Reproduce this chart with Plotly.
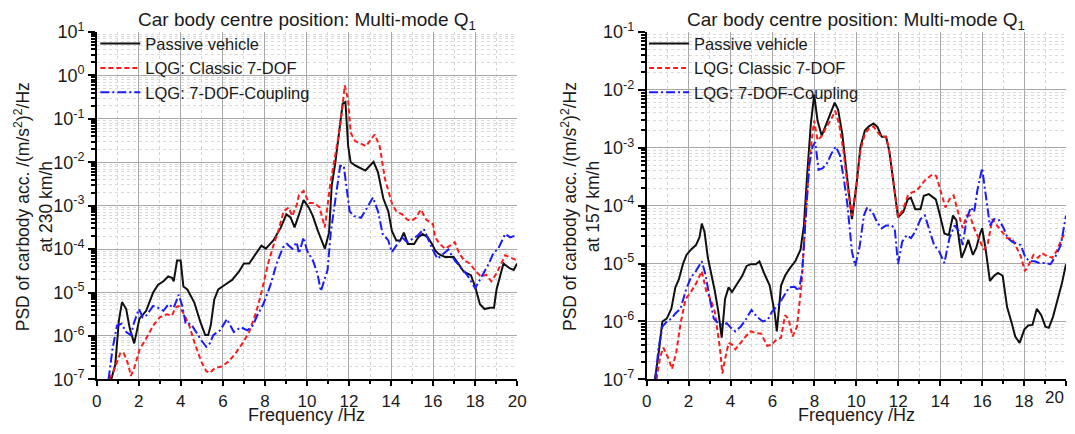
import numpy as np
import plotly.graph_objects as go

# ---------------- data (PSD given as log10 values) ----------------
# Left panel: 230 km/h
f_passive_230 = [0.69,0.88,1.05,1.2,1.4,1.57,1.78,2.03,2.35,2.68,2.92,3.17,3.4,3.58,3.66,3.82,3.99,4.12,4.31,4.64,
                 4.93,5.16,5.3,5.42,5.59,5.78,6.1,6.44,6.76,7.0,7.25,7.5,7.83,8.04,8.4,8.76,9.02,9.22,9.41,9.67,
                 9.84,10.1,10.28,10.52,10.85,11.05,11.18,11.34,11.54,11.7,11.83,11.96,12.08,12.32,12.78,13.17,13.38,13.63,13.87,14.04,
                 14.25,14.44,14.61,14.8,15.1,15.29,15.5,15.75,15.95,16.1,16.24,16.37,16.57,16.7,16.98,17.2,17.46,17.8,18.0,18.23,
                 18.45,18.7,18.9,19.02,19.35,19.64,19.84,20.0]
lg_passive_230 = [-7,-6.66,-5.65,-5.22,-5.38,-5.83,-6.17,-5.6,-5.42,-5.0,-4.82,-4.74,-4.63,-4.66,-4.74,-4.26,-4.26,-4.86,-4.93,-5.23,
                  -5.68,-5.98,-5.98,-5.76,-5.16,-4.93,-4.82,-4.71,-4.52,-4.33,-4.33,-4.14,-3.92,-3.99,-3.8,-3.5,-3.2,-3.27,-3.5,-3.13,
                  -2.87,-3.05,-3.24,-3.58,-3.99,-3.62,-2.53,-2.04,-1.32,-0.65,-0.61,-1.63,-2.0,-2.08,-2.19,-1.99,-2.23,-2.83,-3.13,-3.58,
                  -3.8,-3.8,-3.62,-3.88,-3.88,-3.73,-3.65,-3.73,-3.88,-4.03,-4.1,-4.14,-4.18,-4.18,-4.18,-4.33,-4.52,-4.6,-4.86,-5.27,
                  -5.38,-5.35,-5.35,-4.93,-4.33,-4.44,-4.48,-4.33]

f_classic_230 = [0.59,0.8,1.13,1.29,1.5,1.62,1.78,2.03,2.35,2.68,3.0,3.33,3.58,3.74,3.9,4.15,4.4,4.64,4.97,5.21,
                 5.38,5.62,5.95,6.27,6.6,6.93,7.25,7.58,7.83,8.15,8.4,8.64,8.89,9.13,9.3,9.51,9.62,9.84,10.1,10.36,
                 10.6,10.85,11.1,11.34,11.58,11.8,11.96,12.08,12.29,12.81,13.22,13.46,13.71,14.04,14.25,14.53,14.77,14.97,15.18,15.42,
                 15.67,16.0,16.1,16.32,16.57,16.81,17.03,17.22,17.47,17.75,18.04,18.29,18.53,18.77,19.02,19.43,19.76,20.0]
lg_classic_230 = [-7,-6.81,-6.38,-6.4,-6.66,-6.92,-6.74,-6.32,-6.06,-5.76,-5.57,-5.5,-5.53,-5.35,-5.31,-5.5,-5.76,-6.14,-6.59,-6.81,
                  -6.85,-6.74,-6.7,-6.59,-6.4,-6.17,-5.91,-5.46,-5.0,-4.33,-3.92,-3.58,-3.13,-3.04,-3.24,-2.98,-2.75,-2.66,-2.94,-2.94,
                  -3.04,-3.5,-2.53,-1.85,-1.17,-0.23,-0.57,-1.32,-1.51,-1.63,-1.36,-1.63,-2.38,-2.94,-3.13,-3.2,-3.32,-3.35,-3.28,-3.09,
                  -3.32,-3.43,-3.73,-3.88,-3.99,-3.92,-3.84,-4.07,-4.26,-4.33,-4.52,-4.63,-4.59,-4.74,-4.56,-4.14,-4.22,-4.26]

f_coupling_230 = [0.56,0.75,0.96,1.18,1.4,1.62,1.78,2.0,2.19,2.35,2.68,2.92,3.17,3.41,3.66,3.9,4.07,4.23,4.48,4.72,
                  4.97,5.21,5.38,5.54,5.87,6.19,6.52,6.85,7.17,7.42,7.66,7.92,8.24,8.56,8.86,9.05,9.3,9.51,9.62,9.84,
                  10.0,10.28,10.5,10.66,10.82,10.98,11.14,11.37,11.58,11.75,11.88,12.03,12.24,12.57,12.81,13.14,13.38,13.6,13.87,14.04,
                  14.25,14.53,14.77,15.02,15.26,15.56,15.75,16.0,16.21,16.5,16.73,17.03,17.3,17.63,18.0,18.33,18.66,18.86,19.1,19.43,
                  19.67,20.0]
lg_coupling_230 = [-7,-6.29,-5.76,-5.72,-5.91,-5.98,-5.68,-5.38,-5.57,-5.53,-5.31,-5.35,-5.42,-5.27,-5.35,-5.05,-5.31,-5.72,-5.72,-5.91,
                   -6.1,-6.25,-6.17,-5.98,-5.87,-5.61,-5.91,-5.8,-5.87,-5.76,-5.5,-5.27,-4.86,-4.33,-3.96,-3.88,-3.99,-3.84,-4.1,-3.73,
                   -4.03,-4.26,-4.56,-4.97,-4.71,-4.48,-3.58,-2.83,-2.08,-2.08,-2.6,-3.13,-3.24,-3.28,-3.09,-2.81,-3.13,-3.65,-3.8,-4.07,
                   -3.92,-3.73,-3.84,-3.77,-3.69,-3.54,-3.77,-4.03,-4.22,-4.1,-4.01,-4.26,-4.41,-4.6,-4.9,-4.63,-4.33,-4.1,-3.99,-3.65,
                   -3.73,-3.67]

# Right panel: 157 km/h
f_passive_157 = [0.39,0.56,0.75,0.96,1.18,1.37,1.54,1.73,1.9,2.11,2.35,2.52,2.63,2.76,2.92,3.09,3.25,3.42,3.58,3.74,
                 3.91,4.07,4.31,4.56,4.77,4.97,5.21,5.38,5.62,5.87,6.11,6.21,6.41,6.6,6.85,7.09,7.34,7.5,7.66,7.83,
                 7.99,8.15,8.35,8.56,8.76,8.97,9.13,9.33,9.54,9.79,10.0,10.2,10.41,10.6,10.82,11.01,11.21,11.42,11.58,11.8,
                 11.99,12.24,12.45,12.6,12.81,13.06,13.22,13.46,13.79,13.95,14.2,14.41,14.61,14.77,14.9,15.02,15.18,15.34,15.56,15.72,
                 15.88,16.0,16.16,16.37,16.57,16.76,16.98,17.19,17.39,17.58,17.79,18.01,18.2,18.4,18.61,18.82,19.02,19.18,19.38,19.59,
                 19.8,20.0]
lg_passive_157 = [-7,-6.59,-6.0,-5.95,-5.78,-5.41,-5.27,-5.01,-4.85,-4.76,-4.68,-4.55,-4.31,-4.45,-4.9,-5.18,-5.47,-5.83,-6.28,-5.61,
                  -5.41,-5.49,-5.35,-5.21,-5.04,-5.01,-5.01,-4.96,-5.18,-5.38,-5.86,-6.17,-5.38,-5.21,-5.07,-4.96,-4.76,-4.34,-3.44,-2.59,
                  -2.08,-2.53,-2.79,-2.59,-2.42,-2.22,-2.34,-2.76,-3.44,-4.23,-3.66,-2.98,-2.7,-2.63,-2.58,-2.64,-2.81,-2.81,-3.07,-3.66,
                  -4.2,-4.11,-3.89,-3.86,-4.06,-4.06,-3.83,-3.8,-3.89,-4.11,-4.48,-4.51,-4.17,-4.25,-4.56,-4.9,-4.76,-4.59,-4.85,-4.73,
                  -4.51,-4.39,-4.73,-5.3,-5.21,-5.16,-5.21,-5.75,-6.0,-6.26,-6.37,-6.14,-6.07,-6.06,-5.78,-5.89,-6.09,-6.11,-5.92,-5.64,
                  -5.35,-5.01]

f_classic_157 = [0.47,0.64,0.8,1.05,1.21,1.41,1.62,1.86,2.11,2.35,2.63,2.84,3.04,3.25,3.5,3.61,3.74,3.91,4.07,4.23,
                 4.48,4.72,4.97,5.21,5.46,5.75,5.98,6.19,6.41,6.6,6.76,6.96,7.17,7.39,7.58,7.78,7.99,8.15,8.37,8.56,
                 8.77,8.99,9.18,9.38,9.58,9.79,10.0,10.2,10.41,10.6,10.82,11.01,11.21,11.42,11.58,11.8,11.99,12.24,12.45,12.65,
                 12.84,13.06,13.3,13.63,13.82,14.04,14.25,14.44,14.64,14.85,15.07,15.26,15.42,15.62,15.83,16.08,16.27,16.49,16.7,16.93,
                 17.19,17.42,17.63,17.84,18.04,18.24,18.45,18.66,18.86,19.1,19.35,19.59,19.8,20.0]
lg_classic_157 = [-7,-6.62,-6.45,-6.65,-6.82,-6.54,-6.03,-5.61,-5.49,-5.35,-5.13,-5.47,-5.61,-5.83,-6.48,-6.9,-6.65,-6.37,-6.4,-6.48,
                  -6.37,-6.26,-6.17,-6.2,-6.21,-6.42,-6.4,-6.31,-6.28,-5.89,-5.95,-6.26,-6.09,-5.35,-4.17,-3.15,-2.53,-2.87,-2.79,-2.65,
                  -2.53,-2.36,-2.59,-3.04,-3.66,-4.17,-3.66,-3.04,-2.76,-2.67,-2.63,-2.73,-2.81,-2.81,-3.07,-3.66,-4.2,-4.06,-3.83,-3.77,
                  -3.75,-3.66,-3.55,-3.46,-3.49,-3.77,-4.03,-3.89,-3.82,-4.11,-4.39,-4.17,-4.17,-4.39,-4.56,-4.76,-4.65,-4.23,-4.34,-4.45,
                  -4.56,-4.56,-4.73,-4.87,-5.13,-5.01,-4.85,-4.9,-4.82,-4.87,-4.9,-4.76,-4.56,-4.45]

f_coupling_157 = [0.42,0.56,0.75,0.96,1.18,1.37,1.62,1.86,2.11,2.35,2.63,2.8,3.0,3.2,3.42,3.63,3.82,4.02,4.23,4.48,
                  4.72,5.0,5.26,5.54,5.78,5.98,6.27,6.52,6.8,7.06,7.26,7.42,7.58,7.75,7.91,8.04,8.2,8.4,8.6,8.81,
                  9.02,9.22,9.41,9.58,9.79,9.95,10.16,10.36,10.52,10.77,10.98,11.21,11.42,11.67,11.83,11.99,12.19,12.4,12.61,12.81,
                  13.06,13.27,13.46,13.71,13.95,14.2,14.44,14.69,14.9,15.07,15.26,15.46,15.62,15.78,16.0,16.16,16.37,16.57,16.81,17.03,
                  17.22,17.42,17.63,17.84,18.07,18.28,18.5,18.73,18.99,19.26,19.51,19.75,20.0]
lg_coupling_157 = [-7,-6.48,-6.09,-6.0,-5.95,-5.86,-5.78,-5.47,-5.24,-5.13,-4.96,-5.18,-5.58,-5.95,-6.03,-6.06,-6.03,-6.11,-6.17,-6.09,
                   -5.97,-5.8,-5.92,-6.0,-5.97,-5.83,-5.72,-5.58,-5.41,-5.4,-5.47,-5.13,-4.17,-3.32,-2.98,-2.9,-3.38,-3.35,-3.27,-3.1,
                   -2.98,-3.13,-3.55,-4.0,-4.79,-5.04,-4.7,-4.17,-4.03,-4.11,-4.28,-4.39,-4.34,-4.34,-4.39,-5.01,-4.62,-4.51,-4.56,-4.45,
                   -4.23,-4.17,-4.39,-4.68,-4.79,-4.99,-4.56,-4.34,-4.45,-4.68,-4.23,-4.03,-4.11,-3.72,-3.35,-3.77,-4.34,-4.23,-4.25,-4.39,
                   -4.56,-4.62,-4.65,-4.68,-4.9,-4.96,-4.96,-4.99,-4.99,-5.01,-4.87,-4.68,-4.17]

series_names = ["Passive vehicle", "LQG: Classic 7-DOF", "LQG: 7-DOF-Coupling"]
x_ticks = [0, 2, 4, 6, 8, 10, 12, 14, 16, 18, 20]
left_exponents = [1, 0, -1, -2, -3, -4, -5, -6, -7]
right_exponents = [-1, -2, -3, -4, -5, -6, -7]
title_text = "Car body centre position: Multi-mode Q<sub>1</sub>"
ylabel_left = "PSD of carbody acc. /(m/s<sup>2</sup>)<sup>2</sup>/Hz<br>at 230 km/h"
ylabel_right = "PSD of carbody acc. /(m/s<sup>2</sup>)<sup>2</sup>/Hz<br>at 157 km/h"
xlabel = "Frequency /Hz"

# ---------------- styling ----------------
FONT = "Liberation Sans, Arial, sans-serif"
TXT = "#1a1a1a"
W, H = 1075, 434
XTICK_FS = 17
YTICK_FS = 18
styles = [dict(color="#111111", width=2, dash="solid"),
          dict(color="#ff1a1a", width=2, dash="5px,3px"),
          dict(color="#1a1aff", width=2, dash="9px,3px,2px,3px")]

fig = go.Figure()

panels = [
    ("x", "y", "legend", [(f_passive_230, lg_passive_230), (f_classic_230, lg_classic_230), (f_coupling_230, lg_coupling_230)]),
    ("x2", "y2", "legend2", [(f_passive_157, lg_passive_157), (f_classic_157, lg_classic_157), (f_coupling_157, lg_coupling_157)]),
]
for xa, ya, lg, data in panels:
    for name, (fx, ly), st in zip(series_names, data, styles):
        fig.add_trace(go.Scatter(x=fx, y=10.0 ** np.array(ly), mode="lines", name=name,
                                 line=st, xaxis=xa, yaxis=ya, legend=lg))

def px_x(p):
    return min(max(p / W, 0.0), 1.0)

def px_y(p):
    return 1 - p / H

# layout positions (in figure pixels)
TOP, BOTTOM = 21.1, 387.0
L0, L1 = 93.0, 518.9
R0, R1 = 650.1, 1075.0
y_dom = [px_y(BOTTOM), px_y(TOP)]
x_dom_l = [px_x(L0), px_x(L1)]
x_dom_r = [px_x(R0), px_x(R1)]

def minor_vals(lo, hi):
    vals = []
    for e in range(lo, hi):
        for k in range(2, 10):
            vals.append(k * 10.0 ** e)
    return vals

def xaxis_cfg(dom, anchor, hide_last=False):
    labels = [str(t) for t in x_ticks]
    if hide_last:
        labels[-1] = ""
    return dict(domain=dom, anchor=anchor, range=[0, 20], tickmode="array", tickvals=x_ticks,
                ticktext=labels,
                showline=True, linecolor="black", linewidth=1.5, ticks="outside", ticklen=5,
                tickcolor="black", tickwidth=1.5, showgrid=True, gridcolor="#a8a8a8", gridwidth=1,
                zeroline=False, tickfont=dict(size=XTICK_FS, color=TXT, family=FONT),
                minor=dict(tickmode="array", tickvals=list(range(1, 20, 2)), ticks="outside", ticklen=3,
                           tickcolor="black", showgrid=True, gridcolor="#d4d4d4", griddash="dot"),
                fixedrange=True)

def yaxis_cfg(dom, anchor, exps):
    lo, hi = min(exps), max(exps)
    return dict(domain=dom, anchor=anchor, type="log", range=[lo, hi], tickmode="array",
                tickvals=[10.0 ** e for e in exps],
                ticktext=["10<sup>%d</sup>" % e for e in exps],
                showline=True, linecolor="black", linewidth=1.5, ticks="outside", ticklen=7,
                tickcolor="black", tickwidth=1.5, showgrid=True, gridcolor="#a8a8a8", gridwidth=1,
                zeroline=False, tickfont=dict(size=YTICK_FS, color=TXT, family=FONT),
                minor=dict(tickmode="array", tickvals=minor_vals(lo, hi), ticks="outside", ticklen=4,
                           tickcolor="black", showgrid=True, gridcolor="#d9d9d9", griddash="dot"),
                fixedrange=True)

legend_common = dict(bgcolor="rgba(0,0,0,0)", borderwidth=0, xanchor="left", yanchor="top",
                     font=dict(size=16.5, color=TXT, family=FONT), tracegroupgap=0, itemwidth=40)

fig.update_layout(
    width=W, height=H,
    margin=dict(l=0, r=0, t=0, b=0),
    paper_bgcolor="white", plot_bgcolor="white",
    font=dict(family=FONT, color=TXT),
    xaxis=xaxis_cfg(x_dom_l, "y"),
    yaxis=yaxis_cfg(y_dom, "x", left_exponents),
    xaxis2=xaxis_cfg(x_dom_r, "y2", hide_last=True),
    yaxis2=yaxis_cfg(y_dom, "x2", right_exponents),
    legend=dict(x=px_x(91.5), y=px_y(15.0), **legend_common),
    legend2=dict(x=px_x(647.5), y=px_y(15.0), **legend_common),
    showlegend=True,
)

ann = []
for cx, ylab in [((L0 + L1) / 2, ylabel_left), ((R0 + R1) / 2, ylabel_right)]:
    ann.append(dict(text=title_text, x=px_x(cx), y=px_y(9.5), xref="paper", yref="paper",
                    xanchor="center", yanchor="middle", showarrow=False,
                    font=dict(size=19, color=TXT, family=FONT)))
    ann.append(dict(text=xlabel, x=px_x(cx), y=px_y(437), xref="paper", yref="paper",
                    xanchor="center", yanchor="bottom", showarrow=False,
                    font=dict(size=18, color=TXT, family=FONT)))
ann.append(dict(text=ylabel_left, x=px_x(29.0), y=px_y(205.0), xref="paper", yref="paper",
                xanchor="center", yanchor="middle", showarrow=False, textangle=-90,
                font=dict(size=17.5, color=TXT, family=FONT)))
ann.append(dict(text=ylabel_right, x=px_x(583.0), y=px_y(205.0), xref="paper", yref="paper",
                xanchor="center", yanchor="middle", showarrow=False, textangle=-90,
                font=dict(size=17.5, color=TXT, family=FONT)))
# last tick label of the right panel, kept inside the page edge
ann.append(dict(text="20", x=1.0, y=px_y(BOTTOM + 7), xref="paper", yref="paper",
                xanchor="right", yanchor="top", showarrow=False,
                font=dict(size=XTICK_FS, color=TXT, family=FONT)))
fig.update_layout(annotations=ann)

fig.write_html("out.html", config={"displayModeBar": False})
